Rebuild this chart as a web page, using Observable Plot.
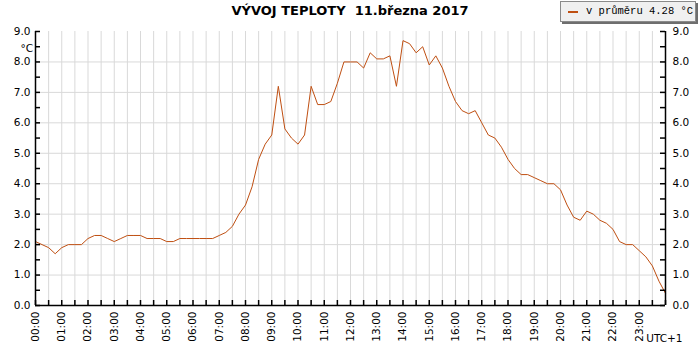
<!DOCTYPE html>
<html>
<head>
<meta charset="utf-8">
<script src="https://cdn.jsdelivr.net/npm/d3@7"></script>
<script src="https://cdn.jsdelivr.net/npm/@observablehq/plot@0.6"></script>
<style>
  html, body { margin: 0; padding: 0; background: #fff; }
  #wrap { position: relative; width: 700px; height: 350px; }
  #title { position: absolute; left: 0; top: 3px; width: 700px; text-align: center;
    font-family: "DejaVu Sans", sans-serif; font-weight: bold; font-size: 13px; color: #000; white-space: pre; }
  #legend { position: absolute; left: 560px; top: 1px; width: 134px; height: 19px;
    background: #f0f0f0; border: 1px solid #8a8a8a; box-shadow: 2px 2px 0 #6e6e6e;
    font-family: "Liberation Mono", "DejaVu Sans Mono", monospace; font-size: 10.5px; color: #000; }
  #legend .sw { position: absolute; left: 7px; top: 9px; width: 10px; height: 2px; background: #bf4f12; }
  #legend .tx { position: absolute; left: 25px; top: 3px; white-space: pre; }
</style>
</head>
<body>
<div id="wrap">
  <div id="chart"></div>
  <div id="title"></div>
  <div id="legend"><div class="sw"></div><div class="tx"></div></div>
</div>
<script>
const titleText = "VÝVOJ TEPLOTY  11.března 2017";
const legendText = "v průměru 4.28 °C";
const unitLabel = "°C";
const zoneLabel = "UTC+1";
const lineColor = "#bf4f12";

// temperature every 15 minutes, 00:00 .. 24:00
const temps = [
  2.1, 2.0, 1.9, 1.7, 1.9, 2.0, 2.0, 2.0,
  2.2, 2.3, 2.3, 2.2, 2.1, 2.2, 2.3, 2.3,
  2.3, 2.2, 2.2, 2.2, 2.1, 2.1, 2.2, 2.2,
  2.2, 2.2, 2.2, 2.2, 2.3, 2.4, 2.6, 3.0,
  3.3, 3.9, 4.8, 5.3, 5.6, 7.2, 5.8, 5.5,
  5.3, 5.6, 7.2, 6.6, 6.6, 6.7, 7.3, 8.0,
  8.0, 8.0, 7.8, 8.3, 8.1, 8.1, 8.2, 7.2,
  8.7, 8.6, 8.3, 8.5, 7.9, 8.2, 7.8, 7.2,
  6.7, 6.4, 6.3, 6.4, 6.0, 5.6, 5.5, 5.2,
  4.8, 4.5, 4.3, 4.3, 4.2, 4.1, 4.0, 4.0,
  3.8, 3.3, 2.9, 2.8, 3.1, 3.0, 2.8, 2.7,
  2.5, 2.1, 2.0, 2.0, 1.8, 1.6, 1.3, 0.8,
  0.4
];
const stepHours = 0.25;
const hourTicks = d3.range(0, 24, 1);
const halfHourTicks = d3.range(0, 24.01, 0.5);
const yLabelTicks = d3.range(0, 9.01, 1);
const yMinorTicks = d3.range(0, 9.01, 0.5);
const yGridTicks = d3.range(1, 9, 1);

const data = temps.map((t, i) => ({h: i * stepHours, t}));
const fmtHour = h => String(h).padStart(2, "0") + ":00";

const W = 700, H = 350, mL = 35, mR = 35, mT = 31, mB = 45;
const fw = W - mL - mR, fh = H - mT - mB;

const chart = Plot.plot({
  width: W, height: H,
  marginLeft: mL, marginRight: mR, marginTop: mT, marginBottom: mB,
  style: {fontFamily: "DejaVu Sans, sans-serif", fontSize: "10.5px", background: "#fff", color: "#000"},
  x: {domain: [0, 24], label: null},
  y: {domain: [0, 9], label: null},
  marks: [
    Plot.gridX(halfHourTicks.filter(d => d > 0 && d < 24), {stroke: "#d9d9d9", strokeOpacity: 1}),
    Plot.gridY(yGridTicks, {stroke: "#d9d9d9", strokeOpacity: 1}),
    Plot.line(data, {x: "h", y: "t", stroke: lineColor, strokeWidth: 1}),
    Plot.ruleX([0, 24], {stroke: "#000", strokeWidth: 1.5}),
    Plot.ruleY([0], {stroke: "#000", strokeWidth: 1.5}),
    Plot.tickY(yMinorTicks, {y: d => d, insetRight: fw - 5, stroke: "#000", strokeWidth: 1.5}),
    Plot.tickY(yMinorTicks, {y: d => d, insetLeft: fw - 5, stroke: "#000", strokeWidth: 1.5}),
    Plot.tickX(halfHourTicks, {x: d => d, insetTop: fh - 5, stroke: "#000", strokeWidth: 1.5}),
    Plot.axisY(yLabelTicks, {anchor: "left", label: null, tickSize: 0, tickPadding: 5, tickFormat: d => d.toFixed(1)}),
    Plot.axisY(yLabelTicks, {anchor: "right", label: null, tickSize: 0, tickPadding: 7, tickFormat: d => d.toFixed(1)}),
    Plot.axisX(hourTicks, {anchor: "bottom", label: null, tickSize: 0, tickPadding: 6, tickRotate: -90, tickFormat: fmtHour}),
    Plot.text([unitLabel], {frameAnchor: "top-left", dx: -15, dy: 13, text: d => d}),
    Plot.text([zoneLabel], {frameAnchor: "bottom-right", dx: 17, dy: 36, text: d => d})
  ]
});
document.getElementById("chart").appendChild(chart);
document.getElementById("title").textContent = titleText;
document.querySelector("#legend .tx").textContent = legendText;
</script>
</body>
</html>
